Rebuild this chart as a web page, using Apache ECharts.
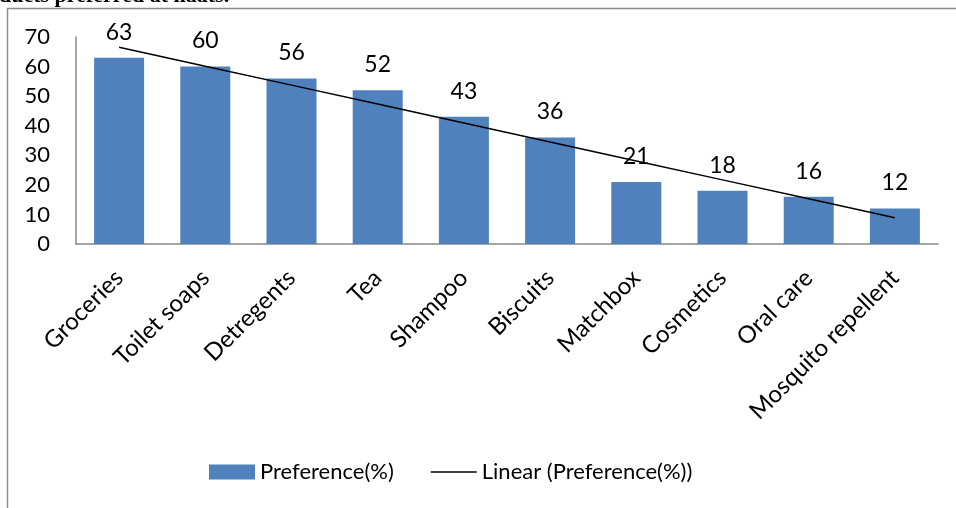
<!DOCTYPE html>
<html lang="en">
<head>
    <meta charset="UTF-8">
    <title>Products preferred at haats</title>
    <script src="https://cdn.jsdelivr.net/npm/echarts@6/dist/echarts.min.js"></script>
    <style>
        html, body { margin: 0; padding: 0; background: #fff; }
        #main { width: 956px; height: 508px; }
    </style>
</head>
<body>
    <div id="main"></div>
    <script>
    // data
    var categories = ['Groceries', 'Toilet soaps', 'Detregents', 'Tea', 'Shampoo',
        'Biscuits', 'Matchbox', 'Cosmetics', 'Oral care', 'Mosquito repellent'];
    var preference = [63, 60, 56, 52, 43, 36, 21, 18, 16, 12];
    var yTicks = { min: 0, max: 70, interval: 10 };

    // least squares line, like the "Linear" trendline in the original
    function linearTrend(vals) {
        var n = vals.length, sx = 0, sy = 0, sxy = 0, sxx = 0;
        vals.forEach(function (v, i) {
            var x = i + 1;
            sx += x; sy += v; sxy += x * v; sxx += x * x;
        });
        var k = (n * sxy - sx * sy) / (n * sxx - sx * sx);
        var b = (sy - k * sx) / n;
        return vals.map(function (v, i) { return +(k * (i + 1) + b).toFixed(2); });
    }
    var trend = linearTrend(preference);

    var font = 'Lato';
    // plain line for the legend, invisible slivers keep the 46x15 box
    var lineIcon = 'path://M0,0H0.01V15H0Z M0,6.8H46V8.3H0Z M45.99,0H46V15H45.99Z';
    var myChart = echarts.init(document.getElementById('main'), null, { renderer: 'canvas' });

    var option = {
        animation: false,
        backgroundColor: '#fff',
        textStyle: { fontFamily: font, color: '#000' },
        grid: { left: 76, right: 18, top: 37, bottom: 264 },
        graphic: [
            {
                type: 'rect',
                shape: { x: 7.5, y: 8.5, width: 1000, height: 600 },
                style: { fill: 'none', stroke: '#8c8c8c', lineWidth: 1.5 },
                silent: true
            },
            {
                type: 'text',
                left: -1,
                top: -15,
                style: {
                    text: 'ducts preferred at haats.',
                    font: 'bold 22px "Liberation Serif"',
                    fill: '#000'
                },
                silent: true
            }
        ],
        legend: {
            bottom: 20,
            left: 204,
            itemGap: 37,
            itemWidth: 46,
            itemHeight: 15,
            textStyle: { fontFamily: font, fontSize: 22, color: '#000' },
            data: [
                { name: 'Preference(%)', icon: 'rect' },
                { name: 'Linear (Preference(%))', icon: lineIcon, itemStyle: { color: '#000' } }
            ]
        },
        xAxis: {
            type: 'category',
            data: categories,
            axisTick: { show: false },
            axisLine: { lineStyle: { color: '#888', width: 1.5 } },
            axisLabel: {
                interval: 0,
                rotate: 45,
                margin: 30,
                fontFamily: font,
                fontSize: 24,
                color: '#000'
            }
        },
        yAxis: {
            type: 'value',
            min: yTicks.min,
            max: yTicks.max,
            interval: yTicks.interval,
            splitLine: { show: false },
            axisTick: { show: false },
            axisLine: { show: true, lineStyle: { color: '#888', width: 1.5 } },
            axisLabel: { margin: 26, fontFamily: font, fontSize: 22, color: '#000' }
        },
        series: [
            {
                name: 'Preference(%)',
                type: 'bar',
                data: preference,
                barCategoryGap: '42%',
                itemStyle: { color: '#4f81bd' },
                label: {
                    show: true,
                    position: 'top',
                    distance: 14,
                    fontFamily: font,
                    fontSize: 23,
                    color: '#000'
                },
                z: 2
            },
            {
                name: 'Linear (Preference(%))',
                type: 'line',
                data: trend,
                symbol: 'none',
                lineStyle: { color: '#000', width: 1.5 },
                itemStyle: { color: '#000' },
                z: 3
            }
        ]
    };

    myChart.setOption(option);
    </script>
</body>
</html>
